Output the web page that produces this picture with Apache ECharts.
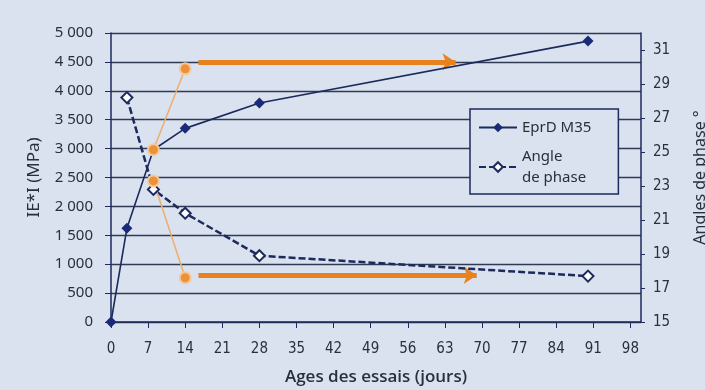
<!DOCTYPE html>
<html>
<head>
<meta charset="utf-8">
<script src="https://cdn.jsdelivr.net/npm/echarts@6/dist/echarts.min.js"></script>
<style>
html,body{margin:0;padding:0;background:#d9e2ee;}
#c{width:705px;height:390px;}
</style>
</head>
<body>
<div id="c"></div>
<script>
// ---- data ----
var agesEprd = [0, 3, 8, 14, 28, 90];
var modulusEprd = [0, 1620, 2980, 3350, 3790, 4860];
var agesPhase = [3, 8, 14, 28, 90];
var anglePhase = [28.2, 22.8, 21.4, 18.9, 17.7];
var agesOrange = [8, 14];
var modulusOrange = [2980, 4380];
var angleOrange = [23.3, 17.6];
var arrowTop = [[16.5, 4500], [65, 4500]];        // left axis (MPa)
var arrowBottom = [[16.5, 17.75], [69, 17.75]];   // right axis (°)
var xTicks = {min: 0, max: 100, interval: 7};
var leftTicks = {min: 0, max: 5000, interval: 500};
var rightTicks = {min: 15, max: 32, interval: 2};

function pairs(xs, ys){ return xs.map(function(x,i){ return [x, ys[i]]; }); }
function thousands(v){ return String(v).replace(/\B(?=(\d{3})+(?!\d))/g, ' '); }

var navy = '#1c2a5c';
var gridCol = '#2f3a55';
var orange = '#e8821e';
var txt = '#2a2f3c';
var font = 'Noto Sans';
var narrow = "'Liberation Sans Narrow', 'DejaVu Sans Condensed', sans-serif";

var chart = echarts.init(document.getElementById('c'));
chart.setOption({
  backgroundColor: '#d9e2ee',
  animation: false,
  grid: {left: 111, right: 64, top: 33, bottom: 68, containLabel: false, outerBoundsMode: 'none'},
  legend: {
    data: ['EprD M35', 'Angle de phase'],
    orient: 'vertical',
    left: 470, top: 109,
    padding: [8, 27, 6, 8],
    itemGap: 8,
    itemWidth: 38, itemHeight: 12,
    backgroundColor: '#d9e2ee',
    borderColor: navy, borderWidth: 1.5,
    formatter: function(n){ return n === 'Angle de phase' ? 'Angle\nde phase' : n; },
    textStyle: {color: txt, fontFamily: font, fontSize: 15, lineHeight: 21}
  },
  xAxis: {
    type: 'value', min: xTicks.min, max: xTicks.max, interval: xTicks.interval,
    name: 'Ages des essais (jours)', nameLocation: 'middle', nameGap: 47,
    nameTextStyle: {color: txt, fontFamily: 'Open Sans', fontSize: 17, fontWeight: 600},
    axisLine: {show: true, onZero: false, lineStyle: {color: navy, width: 1.5}},
    axisTick: {show: true, length: 6, lineStyle: {color: navy}},
    axisLabel: {color: txt, fontFamily: narrow, fontSize: 15, margin: 20, showMaxLabel: false},
    splitLine: {show: false}
  },
  yAxis: [{
    type: 'value', min: leftTicks.min, max: leftTicks.max, interval: leftTicks.interval,
    name: 'IE*I (MPa)', nameLocation: 'middle', nameGap: 68,
    nameTextStyle: {color: txt, fontFamily: font, fontSize: 17},
    axisLine: {show: true, lineStyle: {color: navy, width: 1.5}},
    axisTick: {show: true, length: 6, lineStyle: {color: navy}},
    axisLabel: {color: txt, fontFamily: font, fontSize: 15, margin: 18, formatter: thousands},
    splitLine: {show: true, lineStyle: {color: gridCol, width: 1.4}}
  }, {
    type: 'value', position: 'right', min: rightTicks.min, max: rightTicks.max, interval: rightTicks.interval,
    name: 'Angles de phase °', nameLocation: 'middle', nameGap: 51,
    nameTextStyle: {color: txt, fontFamily: font, fontSize: 16},
    axisLine: {show: true, lineStyle: {color: navy, width: 1.5}},
    axisTick: {show: true, length: 4, lineStyle: {color: navy}},
    axisLabel: {color: txt, fontFamily: narrow, fontSize: 15, margin: 12, showMaxLabel: false},
    splitLine: {show: false}
  }],
  series: [{
    name: 'EprD M35', type: 'line', yAxisIndex: 0,
    data: pairs(agesEprd, modulusEprd),
    symbol: 'diamond', symbolSize: 11,
    lineStyle: {color: navy, width: 1.6},
    itemStyle: {color: '#1a2a78'}
  }, {
    name: 'Angle de phase', type: 'line', yAxisIndex: 1,
    data: pairs(agesPhase, anglePhase),
    symbol: 'emptyDiamond', symbolSize: 11,
    lineStyle: {color: navy, width: 2.5, type: [7, 3]},
    itemStyle: {color: navy, borderColor: navy, borderWidth: 1.8}
  }, {
    name: 'orangeMod', type: 'line', yAxisIndex: 0,
    data: pairs(agesOrange, modulusOrange),
    symbol: 'circle', symbolSize: 11,
    lineStyle: {color: '#efad6c', width: 1.5},
    itemStyle: {color: '#ee9038', borderColor: '#f3c99c', borderWidth: 2}
  }, {
    name: 'orangeAngle', type: 'line', yAxisIndex: 1,
    data: pairs(agesOrange, angleOrange),
    symbol: 'circle', symbolSize: 11,
    lineStyle: {color: '#efad6c', width: 1.5},
    itemStyle: {color: '#ee9038', borderColor: '#f3c99c', borderWidth: 2}
  }, {
    name: 'arrowTop', type: 'lines', coordinateSystem: 'cartesian2d', xAxisIndex: 0, yAxisIndex: 0,
    data: [{coords: arrowTop}],
    symbol: ['none', 'arrow'], symbolSize: 13,
    lineStyle: {color: orange, width: 5, opacity: 1}
  }, {
    name: 'arrowBottom', type: 'lines', coordinateSystem: 'cartesian2d', xAxisIndex: 0, yAxisIndex: 1,
    data: [{coords: arrowBottom}],
    symbol: ['none', 'arrow'], symbolSize: 13,
    lineStyle: {color: orange, width: 5, opacity: 1}
  }]
});
</script>
</body>
</html>
